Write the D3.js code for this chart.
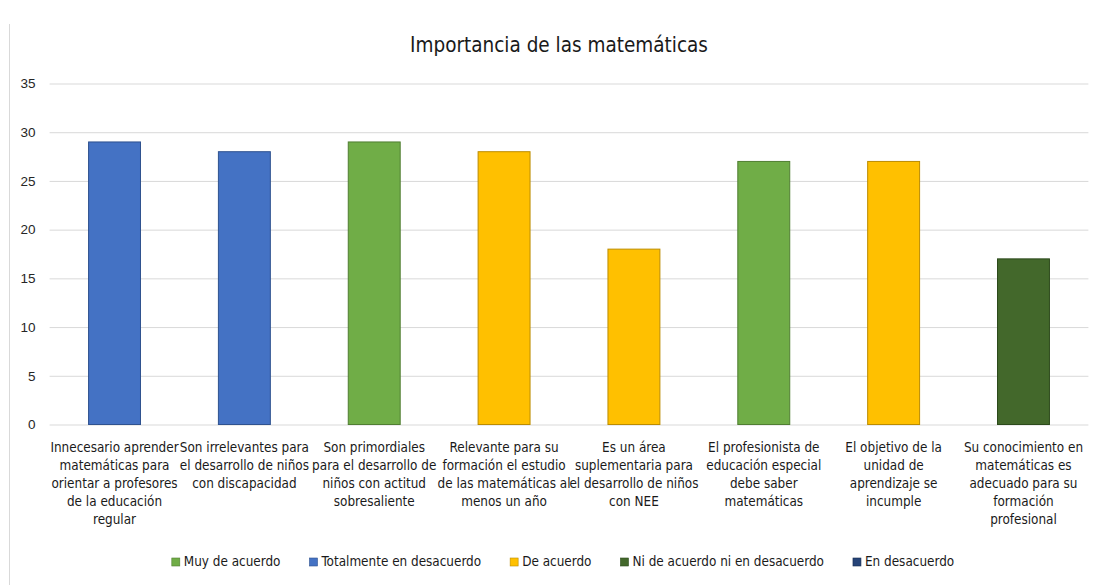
<!DOCTYPE html>
<html>
<head>
<meta charset="utf-8">
<script src="https://cdn.jsdelivr.net/npm/d3@7"></script>
<style>
  body { margin: 0; background: #fff; }
  svg { display: block; font-family: "DejaVu Sans Condensed", "DejaVu Sans", sans-serif; }
</style>
</head>
<body>
<div id="chart"></div>
<script>
// Data
const categories = [
  ["Innecesario aprender", "matemáticas  para", "orientar a profesores", "de la educación", "regular"],
  ["Son irrelevantes para", "el desarrollo de niños", "con discapacidad"],
  ["Son primordiales", "para el desarrollo de", "niños con actitud", "sobresaliente"],
  ["Relevante para su", "formación el estudio", "de las matemáticas al", "menos un año"],
  ["Es un área", "suplementaria para", "el desarrollo de niños", "con NEE"],
  ["El profesionista de", "educación especial", "debe saber", "matemáticas"],
  ["El objetivo de la", "unidad de", "aprendizaje se", "incumple"],
  ["Su conocimiento en", "matemáticas  es", "adecuado para su", "formación", "profesional"]
];
const values = [29, 28, 29, 28, 18, 27, 27, 17];
const responses = ["Totalmente en desacuerdo", "Totalmente en desacuerdo", "Muy de acuerdo", "De acuerdo",
  "De acuerdo", "Muy de acuerdo", "De acuerdo", "Ni de acuerdo ni en desacuerdo"];
const legendLabels = ["Muy de acuerdo", "Totalmente en desacuerdo", "De acuerdo", "Ni de acuerdo ni en desacuerdo", "En desacuerdo"];
const legendColors = ["#70AD47", "#4472C4", "#FFC000", "#43682B", "#264478"];
const legendStrokes = ["#507E32", "#2F528F", "#BC8C00", "#2C4A1B", "#172C4F"];
const yTicks = [0, 5, 10, 15, 20, 25, 30, 35];

const width = 1096, height = 585;
const color = d3.scaleOrdinal().domain(legendLabels).range(legendColors);
const stroke = d3.scaleOrdinal().domain(legendLabels).range(legendStrokes);

const svg = d3.select("#chart").append("svg")
  .attr("width", width)
  .attr("height", height);

// chart area border (left edge only visible)
svg.append("line")
  .attr("x1", 9.5).attr("x2", 9.5).attr("y1", 24).attr("y2", height)
  .attr("stroke", "#d9d9d9");

const x = d3.scaleBand().domain(d3.range(categories.length))
  .range([49.6, 1088.4]).paddingInner(0.6).paddingOuter(0.3);
const y = d3.scaleLinear().domain([0, 35]).range([424.5, 83.5]);

// Title
svg.append("text")
  .attr("x", 559).attr("y", 52)
  .attr("text-anchor", "middle")
  .attr("font-size", 20.5)
  .attr("fill", "#1a1a1a")
  .text("Importancia de las matemáticas");

// Gridlines + y axis labels
const yAxis = svg.append("g")
  .attr("transform", "translate(49.6,0)")
  .call(d3.axisLeft(y).tickValues(yTicks).tickSize(-(1088.4 - 49.6)).tickPadding(14));
yAxis.select(".domain").remove();
yAxis.selectAll(".tick line").attr("stroke", "#d9d9d9");
yAxis.selectAll(".tick text")
  .attr("font-size", 13.5)
  .attr("font-family", "inherit")
  .attr("fill", "#262626");

// Bars
svg.append("g").selectAll("rect").data(values).join("rect")
  .attr("x", (d, i) => x(i))
  .attr("width", x.bandwidth())
  .attr("y", d => y(d))
  .attr("height", d => y(0) - y(d))
  .attr("fill", (d, i) => color(responses[i]))
  .attr("stroke", (d, i) => stroke(responses[i]))
  .attr("stroke-width", 1);

// Category labels
const catG = svg.append("g").selectAll("text").data(categories).join("text")
  .attr("x", (d, i) => x(i) + x.bandwidth() / 2)
  .attr("y", 451.5)
  .attr("text-anchor", "middle")
  .attr("font-size", 13.4)
  .attr("fill", "#1a1a1a");
catG.selectAll("tspan").data(d => d).join("tspan")
  .attr("x", function() { return this.parentNode.getAttribute("x"); })
  .attr("dy", (d, j) => j === 0 ? 0 : 18.2)
  .text(d => d);

// Legend
const legend = svg.append("g").attr("font-size", 13.4).attr("fill", "#1a1a1a");
const items = legend.selectAll("g").data(legendLabels).join("g");
items.append("rect")
  .attr("width", 8).attr("height", 8).attr("y", -8)
  .attr("fill", d => color(d))
  .attr("stroke", d => stroke(d)).attr("stroke-width", 0.6);
items.append("text").attr("x", 12).text(d => d);
let pos = 0;
const offsets = [];
items.each(function() {
  offsets.push(pos);
  pos += this.getBBox().width + 29;
});
const total = pos - 29;
const startX = 563 - total / 2;
items.attr("transform", (d, i) => `translate(${startX + offsets[i]},566)`);
</script>
</body>
</html>
